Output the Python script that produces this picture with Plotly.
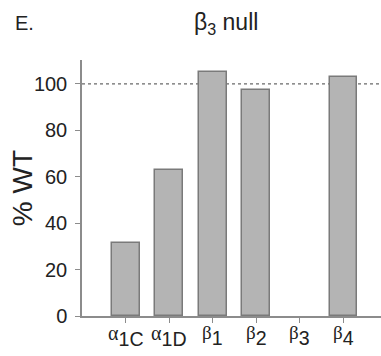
import plotly.graph_objects as go

# Subunit expression in the beta3-null line, as percent of wild type
greek = ["α", "α", "β", "β", "β", "β"]
subscripts = ["1C", "1D", "1", "2", "3", "4"]
pct_wt = [31.3, 62.8, 105.2, 97.3, 0, 102.9]
y_ticks = [0, 20, 40, 60, 80, 100]
reference_level = 100

FONT = "Liberation Sans, Arial, sans-serif"
SERIF = "Liberation Serif, Times New Roman, serif"
AXIS_GREY = "#8c8c8c"
TEXT = "#222222"

# Greek letter at a smaller size, index as a large subscript
labels = [
    f"<span style='font-family:{SERIF};font-size:{19 if g == 'β' else 20}px'>{g}</span><sub>{s}</sub>"
    for g, s in zip(greek, subscripts)
]
x_pos = list(range(len(subscripts)))

fig = go.Figure()
fig.add_trace(go.Bar(
    x=x_pos,
    y=pct_wt,
    width=0.64,
    marker=dict(color="#b4b4b4",
                line=dict(color="#7a7a7a", width=[1.5 if v > 0 else 0 for v in pct_wt])),
    showlegend=False,
))

# dotted wild-type reference line
fig.add_shape(type="line", xref="paper", yref="y", x0=0, x1=1,
              y0=reference_level, y1=reference_level,
              line=dict(color="#6a6a6a", width=1.2, dash="dot"), layer="below")

# category labels placed under each tick
label_annotations = [
    dict(text=lab, xref="x", yref="paper", x=xp, y=0, xanchor="center", yanchor="top",
         yshift=-4, showarrow=False, font=dict(size=28, family=FONT, color=TEXT))
    for xp, lab in zip(x_pos, labels)
]

fig.update_layout(
    width=381, height=356,
    margin=dict(l=82, r=0, t=60, b=40, autoexpand=False),
    paper_bgcolor="white", plot_bgcolor="white",
    font=dict(family=FONT, color=TEXT),
    bargap=0,
    xaxis=dict(
        range=[-1, 5.86],
        tickmode="array", tickvals=x_pos, showticklabels=False,
        ticks="outside", ticklen=5, tickcolor=AXIS_GREY, tickwidth=1,
        showline=True, linecolor=AXIS_GREY, linewidth=1.5,
        showgrid=False, zeroline=False,
    ),
    yaxis=dict(
        range=[0, 110.3],
        tickmode="array", tickvals=y_ticks,
        ticks="outside", ticklen=5, tickcolor=AXIS_GREY, tickwidth=1,
        showline=True, linecolor=AXIS_GREY, linewidth=1.5,
        showgrid=False, zeroline=False,
        tickfont=dict(size=20, family=FONT, color=TEXT),
        ticklabelstandoff=4,
    ),
    annotations=label_annotations + [
        dict(text="% WT", xref="paper", yref="paper", x=-0.2, y=0.5,
             xanchor="center", yanchor="middle", textangle=-90, showarrow=False,
             font=dict(size=28, family=FONT, color=TEXT)),
        dict(text="β<sub>3</sub> null", xref="paper", yref="paper", x=0.48, y=1.0,
             xanchor="center", yanchor="bottom", yshift=20, showarrow=False,
             font=dict(size=23, family=FONT, color=TEXT)),
        dict(text="E.", xref="paper", yref="paper", x=-0.23, y=1.0,
             xanchor="left", yanchor="bottom", yshift=24, showarrow=False,
             font=dict(size=20, family=FONT, color=TEXT)),
    ],
)

fig.write_html("out.html")
